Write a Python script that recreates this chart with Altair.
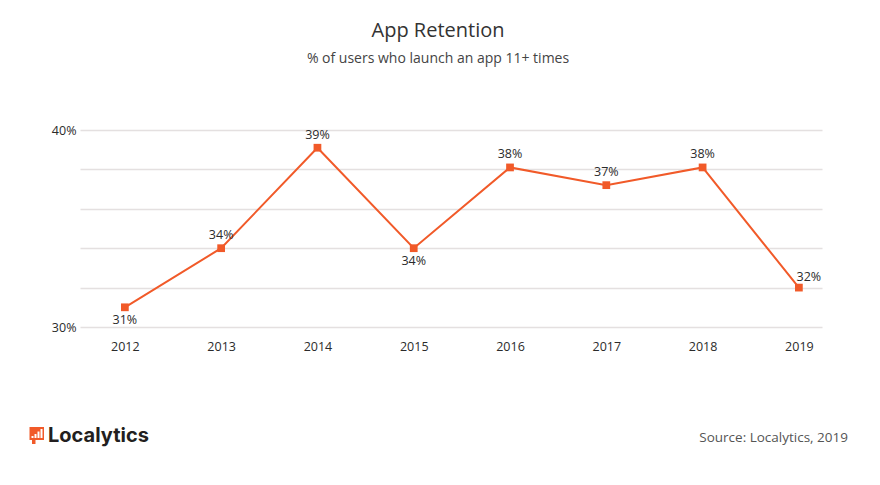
import altair as alt
import pandas as pd

years = ["2012", "2013", "2014", "2015", "2016", "2017", "2018", "2019"]
retention = [31.0, 34.0, 39.1, 34.0, 38.1, 37.2, 38.1, 32.0]
value_labels = ["31%", "34%", "39%", "34%", "38%", "37%", "38%", "32%"]
below_years = ["2012", "2015"]
right_years = ["2019"]
y_ticks = [30, 32, 34, 36, 38, 40]

title_text = "App Retention"
subtitle_text = "% of users who launch an app 11+ times"
brand_text = "Localytics"
source_text = "Source: Localytics, 2019"

ORANGE = "#f15a29"
FONT = "Open Sans"

df = pd.DataFrame({"year": years, "value": retention, "label": value_labels})

x_enc = alt.X(
    "year:N",
    sort=years,
    scale=alt.Scale(type="point", padding=0.353, align=0.66),
    axis=alt.Axis(
        title=None, labelAngle=0, domain=False, ticks=False, grid=False,
        labelPadding=13, labelFontSize=12.5, labelColor="#2b2b2b", labelFont=FONT,
    ),
)
y_enc = alt.Y(
    "value:Q",
    scale=alt.Scale(domain=[30, 40]),
    axis=alt.Axis(
        title=None, values=y_ticks, domain=False, ticks=False,
        gridColor="#e4e0e0", gridWidth=1.5,
        labelExpr="datum.value == 30 || datum.value == 40 ? datum.value + '%' : ''",
        labelPadding=4, labelFontSize=12.5, labelColor="#2b2b2b", labelFont=FONT,
    ),
)

base = alt.Chart(df).encode(x=x_enc, y=y_enc)

line = base.mark_line(color=ORANGE, strokeWidth=2)
points = base.mark_square(color=ORANGE, size=60, opacity=1)

txt = dict(font=FONT, fontSize=12.5, color="#2b2b2b")
lab_above = base.transform_filter(
    {"not": alt.FieldOneOfPredicate(field="year", oneOf=below_years + right_years)}
).mark_text(dy=-13, **txt).encode(text="label:N")
lab_below = base.transform_filter(
    alt.FieldOneOfPredicate(field="year", oneOf=below_years)
).mark_text(dy=13, **txt).encode(text="label:N")
lab_right = base.transform_filter(
    alt.FieldOneOfPredicate(field="year", oneOf=right_years)
).mark_text(dx=10, dy=-11, **txt).encode(text="label:N")

one = pd.DataFrame({"k": [0]})
title = alt.Chart(one).mark_text(
    text=title_text, font=FONT, fontSize=20, color="#333333", baseline="alphabetic", align="center"
).encode(x=alt.value(358), y=alt.value(-93))
subtitle = alt.Chart(one).mark_text(
    text=subtitle_text, font=FONT, fontSize=14, color="#444444", baseline="alphabetic", align="center"
).encode(x=alt.value(358), y=alt.value(-67))
brand = alt.Chart(one).mark_text(
    text=brand_text, font="Inter", fontSize=20, fontWeight="bold", color="#231f20",
    baseline="alphabetic", align="left"
).encode(x=alt.value(-32), y=alt.value(311.5))
source = alt.Chart(one).mark_text(
    text=source_text, font=FONT, fontSize=13.5, color="#555555", baseline="alphabetic", align="right"
).encode(x=alt.value(768), y=alt.value(311.5))

icon_layers = [
    alt.Chart(one).mark_rect(color=ORANGE).encode(
        x=alt.value(-50.5), x2=alt.value(-36), y=alt.value(297), y2=alt.value(310)),
    alt.Chart(one).mark_rect(color=ORANGE).encode(
        x=alt.value(-48), x2=alt.value(-44.5), y=alt.value(309), y2=alt.value(314)),
]
for i, h in enumerate([2, 4, 6.5, 9]):
    x0 = -48.5 + i * 3
    icon_layers.append(
        alt.Chart(one).mark_rect(color="white").encode(
            x=alt.value(x0), x2=alt.value(x0 + 2), y=alt.value(308 - h), y2=alt.value(308))
    )

chart = alt.layer(
    line, points, lab_above, lab_below, lab_right, title, subtitle, brand, source, *icon_layers
).properties(
    width=742, height=197,
    autosize=alt.AutoSizeParams(type="none"),
    padding={"left": 72, "top": 122, "right": 50, "bottom": 150},
    background="white",
).configure_view(stroke=None)

chart.save("out.html", embed_options={"renderer": "svg", "actions": False})
